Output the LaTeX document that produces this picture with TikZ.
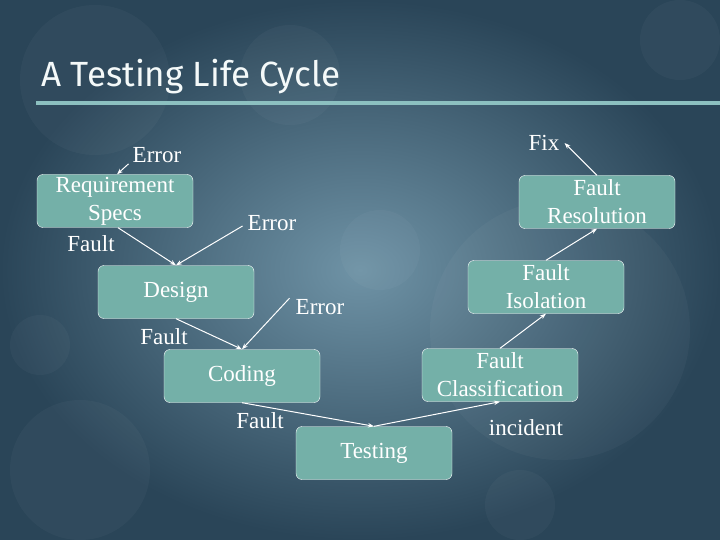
\documentclass[tikz,border=0pt]{standalone}
\usepackage{fontspec}
\setmainfont{Liberation Serif}
\newfontfamily\titlefont{Fira Sans}
\usetikzlibrary{arrows.meta}
\definecolor{boxfill}{HTML}{74B0A8}
\definecolor{bgdark}{HTML}{2A4558}
\definecolor{bglight}{HTML}{6F93A6}
\definecolor{rule}{HTML}{8CC0C0}
\begin{document}
\begin{tikzpicture}[x=1pt,y=-1pt,
			box/.style={rectangle, rounded corners=6pt, draw=white, fill=boxfill, minimum width=156pt, minimum height=53pt, inner sep=1pt, align=center, text=white, font=\fontsize{23}{28}\selectfont},
			lbl/.style={text=white, font=\fontsize{23}{26}\selectfont, inner sep=1pt},
			arrow/.style={-{Stealth[length=6pt]}, white, line width=1pt}
			]
			
			% Background
			\useasboundingbox (0,0) rectangle (720,540);
			\shade[inner color=bglight, outer color=bgdark] (0,0) rectangle (720,540);
			\begin{scope}
				\clip (0,0) rectangle (720,540);
				\foreach \cx/\cy/\r in {95/80/75, 290/75/50, 680/40/40, 80/470/70, 560/330/130, 880/240/150, 380/250/40, 520/505/35, 40/345/30}
					\fill[white, opacity=.03] (\cx,\cy) circle (\r);
			\end{scope}
			
			% Title
			\node[anchor=west, text=white!90!rule, font=\titlefont\fontsize{35}{38}\selectfont] (title) at (38,77) {A Testing Life Cycle};
			\fill[rule] (36,101) rectangle (720,105);
			
			% Boxes
			\node[box] (req) at (115,201) {Requirement\\Specs};
			\node[box] (design) at (176,292) {Design};
			\node[box] (coding) at (242,376) {Coding};
			\node[box] (testing) at (374,453) {Testing};
			\node[box] (classif) at (500,375) {Fault\\Classification};
			\node[box] (isol) at (546,287) {Fault\\Isolation};
			\node[box] (resol) at (597,202) {Fault\\Resolution};
			
			% Labels
			\node[lbl] (err1) at (157,155) {Error};
			\node[lbl] (fault1) at (91,244) {Fault};
			\node[lbl] (err2) at (272,223) {Error};
			\node[lbl] (fault2) at (164,337) {Fault};
			\node[lbl] (err3) at (320,307) {Error};
			\node[lbl] (fault3) at (260,421) {Fault};
			\node[lbl] (inc) at (526,428) {incident};
			\node[lbl] (fix) at (544,143) {Fix};
			
			% Connectors
			\draw[arrow] ([xshift=-3pt]err1.south west) -- ([xshift=2pt]req.north);
			\draw[arrow] ([xshift=3pt]req.south) -- (design.north);
			\draw[arrow] ([xshift=-4pt,yshift=-3pt]err2.west) -- (design.north);
			\draw[arrow] (design.south) -- (coding.north);
			\draw[arrow] ([xshift=-5pt]err3.north west) -- (coding.north);
			\draw[arrow] (coding.south) -- (testing.north);
			\draw[arrow] (testing.north) -- (classif.south);
			\draw[arrow] (classif.north) -- (isol.south);
			\draw[arrow] (isol.north) -- (resol.south);
			\draw[arrow] (resol.north) -- ([xshift=4pt]fix.east);
		\end{tikzpicture}
\end{document}
